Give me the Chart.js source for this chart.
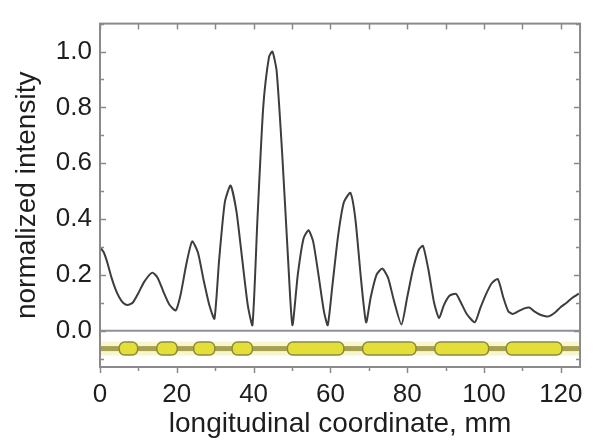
<!DOCTYPE html>
<html>
<head>
<meta charset="utf-8">
<script src="https://cdn.jsdelivr.net/npm/chart.js@4"></script>
<style>
  html, body { margin: 0; padding: 0; background: #fff; }
  #wrap { width: 595px; height: 441px; }
</style>
</head>
<body>
<div id="wrap"><canvas id="profileChart"></canvas></div>
<script>
// intensity profile along the rod
const positions = [0, 1, 2, 3, 4, 5, 6, 7.2, 8.5, 10, 11.5, 13.6, 15, 16.5, 18, 19.7,
  21, 22.5, 24, 25.5, 27, 28.5, 29.8, 31, 32.5, 34, 35.5, 37, 38.5, 39.7,
  41, 42.5, 44, 44.9, 46, 47.5, 49, 50.1, 51.5, 53, 54.3, 55.5, 57, 58.3, 59.3,
  60.5, 62, 63.5, 65.2, 66.5, 68, 69.3, 70.5, 72, 73.5, 75, 76.5, 78.5,
  80, 81.5, 83, 84.1, 85.5, 87, 88.3, 89.5, 91, 92.7, 94, 95.5, 97.6,
  99, 100.5, 102, 103.6, 105, 106.3, 107.5, 109, 110.5, 111.8, 113, 114.5, 116, 117,
  118.5, 120, 121.5, 123, 124.7];
const intensity = [0.30, 0.28, 0.24, 0.19, 0.15, 0.12, 0.10, 0.092, 0.10, 0.135, 0.175, 0.208, 0.19, 0.14, 0.095, 0.072,
  0.13, 0.24, 0.32, 0.28, 0.18, 0.09, 0.043, 0.25, 0.46, 0.52, 0.43, 0.26, 0.09, 0.02,
  0.40, 0.80, 0.98, 1.0, 0.93, 0.62, 0.25, 0.02, 0.20, 0.33, 0.36, 0.32, 0.19, 0.07, 0.02,
  0.16, 0.34, 0.46, 0.494, 0.40, 0.18, 0.03, 0.12, 0.20, 0.223, 0.19, 0.11, 0.022,
  0.12, 0.22, 0.29, 0.304, 0.22, 0.10, 0.045, 0.09, 0.125, 0.132, 0.10, 0.06, 0.03,
  0.08, 0.13, 0.17, 0.185, 0.12, 0.07, 0.06, 0.07, 0.08, 0.083, 0.07, 0.058, 0.052, 0.052,
  0.065, 0.085, 0.10, 0.118, 0.133];

// yellow sections on the rod, mm
const sectionStart = [5, 14.8, 24.4, 34.4, 48.8, 68.4, 87.2, 105.8];
const sectionEnd = [9.8, 20.1, 29.9, 39.7, 63.5, 82.3, 101.2, 120.3];
const rodLevel = -0.064;
const rodEnds = [0, 125];

const xRange = [0, 125];
const yRange = [-0.13, 1.1];

const textColor = '#1e1e1e';
const frameColor = '#8a8a8a';
const fontFamily = "'Liberation Sans', Arial, sans-serif";

// rod with its sections, drawn under the profile
const rodPlugin = {
  id: 'rod',
  beforeDatasetsDraw(chart) {
    const { ctx, chartArea, scales: { x, y } } = chart;
    const yPix = y.getPixelForValue(rodLevel);
    const x0 = x.getPixelForValue(rodEnds[0]);
    const x1 = x.getPixelForValue(rodEnds[1]);
    ctx.save();
    ctx.beginPath();
    ctx.rect(chartArea.left, chartArea.top, chartArea.right - chartArea.left, chartArea.bottom - chartArea.top);
    ctx.clip();
    ctx.fillStyle = '#f7f6cc';
    ctx.fillRect(x0, yPix - 7, x1 - x0, 14);
    ctx.fillStyle = '#a6a152';
    ctx.fillRect(x0, yPix - 2.5, x1 - x0, 5);
    sectionStart.forEach((s, i) => {
      const a = x.getPixelForValue(s);
      const b = x.getPixelForValue(sectionEnd[i]);
      ctx.beginPath();
      ctx.roundRect(a, yPix - 6.5, b - a, 13, 5.5);
      ctx.fillStyle = '#e3df38';
      ctx.fill();
      ctx.lineWidth = 1.5;
      ctx.strokeStyle = '#8e8a3c';
      ctx.stroke();
    });
    ctx.restore();
  }
};

// box frame; ticks point inward except on the bottom axis
const framePlugin = {
  id: 'frame',
  afterDatasetsDraw(chart) {
    const { ctx, chartArea: ca, scales: { x, y } } = chart;
    ctx.save();
    ctx.strokeStyle = frameColor;
    ctx.lineWidth = 1.5;
    x.ticks.forEach(t => {
      const px = Math.round(x.getPixelForValue(t.value)) + 0.5;
      const len = t.label ? 6 : 4;
      ctx.beginPath();
      ctx.moveTo(px, ca.bottom); ctx.lineTo(px, ca.bottom + len);
      ctx.moveTo(px, ca.top); ctx.lineTo(px, ca.top + 6);
      ctx.stroke();
    });
    y.ticks.forEach(t => {
      const py = Math.round(y.getPixelForValue(t.value)) + 0.5;
      const len = t.label ? 6 : 4;
      ctx.beginPath();
      ctx.moveTo(ca.left, py); ctx.lineTo(ca.left + len, py);
      ctx.moveTo(ca.right, py); ctx.lineTo(ca.right - len, py);
      ctx.stroke();
    });
    ctx.lineWidth = 2;
    ctx.strokeRect(ca.left, ca.top, ca.right - ca.left, ca.bottom - ca.top);
    ctx.restore();
  }
};

const ctx = document.getElementById('profileChart').getContext('2d');
const profileChart = new Chart(ctx, {
  type: 'line',
  data: {
    datasets: [{
      label: 'normalized intensity',
      data: positions.map((p, i) => ({ x: p, y: intensity[i] })),
      borderColor: '#3d3d3d',
      borderWidth: 2,
      pointRadius: 0,
      tension: 0.2
    }, {
      label: 'zero',
      data: rodEnds.map(p => ({ x: p, y: 0 })),
      borderColor: '#8f8f9d',
      borderWidth: 2,
      pointRadius: 0
    }]
  },
  options: {
    responsive: true,
    maintainAspectRatio: false,
    animation: false,
    layout: { padding: { left: 0, right: 12, top: 12, bottom: 0 } },
    plugins: {
      legend: { display: false },
      tooltip: { enabled: false }
    },
    scales: {
      x: {
        type: 'linear',
        min: xRange[0],
        max: xRange[1],
        grid: { display: false, drawTicks: false },
        border: { display: false },
        ticks: {
          stepSize: 10,
          includeBounds: false,
          autoSkip: false,
          maxRotation: 0,
          padding: 12,
          color: textColor,
          font: { family: fontFamily, size: 26 },
          callback: v => (Math.round(v) % 20 === 0 ? String(Math.round(v)) : '')
        },
        title: {
          display: true,
          text: 'longitudinal coordinate, mm',
          color: textColor,
          font: { family: fontFamily, size: 28 },
          padding: { top: 0, bottom: 0 }
        },
        afterFit(scale) { scale.height = 74; }
      },
      y: {
        type: 'linear',
        min: yRange[0],
        max: yRange[1],
        grid: { display: false, drawTicks: false },
        border: { display: false },
        ticks: {
          stepSize: 0.1,
          includeBounds: false,
          autoSkip: false,
          padding: 8,
          color: textColor,
          font: { family: fontFamily, size: 26 },
          callback: v => {
            const k = Math.round(v * 10);
            return (k >= 0 && k % 2 === 0) ? (k / 10).toFixed(1) : '';
          }
        },
        title: {
          display: true,
          text: 'normalized intensity',
          color: textColor,
          font: { family: fontFamily, size: 28 },
          padding: { top: 10, bottom: 0 }
        },
        afterFit(scale) { scale.width = 100; }
      }
    }
  },
  plugins: [rodPlugin, framePlugin]
});
</script>
</body>
</html>
